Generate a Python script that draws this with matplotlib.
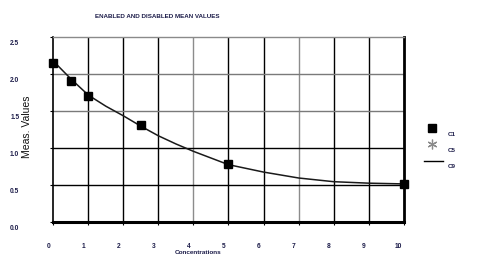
import matplotlib
matplotlib.use("Agg")
import matplotlib.pyplot as plt
import matplotlib.transforms as mtransforms
from matplotlib.lines import Line2D

plt.rcParams['font.family'] = ['Liberation Sans', 'DejaVu Sans']

# measured points (C1)
conc = [0.0, 0.5, 1.0, 2.5, 5.0, 10.0]
meas = [2.15, 1.90, 1.70, 1.30, 0.78, 0.51]

# fitted curve (C9)
fit_x = [0.0, 0.5, 1.0, 1.5, 2.0, 2.5, 3.0, 3.5, 4.0, 4.5, 5.0,
         5.5, 6.0, 6.5, 7.0, 7.5, 8.0, 8.5, 9.0, 9.5, 10.0]
fit_y = [2.17, 1.93, 1.71, 1.56, 1.43, 1.29, 1.16, 1.05, 0.95, 0.86, 0.77,
         0.72, 0.67, 0.63, 0.59, 0.565, 0.54, 0.53, 0.52, 0.515, 0.51]

xticks = [0, 1, 2, 3, 4, 5, 6, 7, 8, 9, 10]
yticks = [0.0, 0.5, 1.0, 1.5, 2.0, 2.5]
legend_labels = ['C1', 'C5', 'C9']

navy = '#1d1d4a'

fig = plt.figure(figsize=(4.81, 2.75), dpi=100)
ax = fig.add_axes([0.1108, 0.194, 0.7285, 0.6727])

for x in xticks[1:-1]:
    ax.axvline(x, color='#8c8c8c' if x in (4, 7) else 'black', lw=1.0, zorder=1)
for y in yticks[1:-1]:
    ax.axhline(y, color='#7a7a7a' if y in (1.5, 2.0) else 'black', lw=1.0, zorder=1)

ax.plot(fit_x, fit_y, '-', color='#1a1a1a', lw=1.1, zorder=3)
ax.plot(conc, meas, 's', color='black', ms=6, zorder=4, clip_on=False)

ax.set_xlim(0, 10)
ax.set_ylim(0, 2.5)
ax.set_xticks(xticks)
ax.set_yticks(yticks)
ax.set_xticklabels([str(x) for x in xticks])
ax.set_yticklabels([f'{y:.1f}' for y in yticks])
ax.tick_params(axis='both', direction='out', length=2.5, width=0.8,
               labelsize=4.8, labelcolor=navy)
ax.tick_params(axis='x', pad=13)
ax.tick_params(axis='y', pad=22)
for lab in ax.get_xticklabels():
    lab.set_fontweight('bold')
    lab.set_transform(lab.get_transform() + mtransforms.ScaledTranslation(-5 / 100, 0, fig.dpi_scale_trans))
for lab in ax.get_yticklabels():
    lab.set_fontweight('bold')
    lab.set_transform(lab.get_transform() + mtransforms.ScaledTranslation(0, -6 / 100, fig.dpi_scale_trans))

ax.spines['top'].set_color('#8a8a8a')
ax.spines['top'].set_linewidth(1.0)
ax.spines['left'].set_linewidth(1.2)
ax.spines['bottom'].set_linewidth(2.2)
ax.spines['right'].set_linewidth(2.0)

fig.text(157 / 481, 1 - 17 / 275, 'ENABLED AND DISABLED MEAN VALUES', ha='center', va='center',
         fontsize=4.5, fontweight='bold', color=navy)
fig.text(198 / 481, 1 - 253 / 275, 'Concentrations', ha='center', va='center',
         fontsize=4.6, fontweight='bold', color=navy)
fig.text(27 / 481, 1 - 127 / 275, 'Meas. Values', ha='center', va='center', rotation=90,
         fontsize=7.5, color='#111111')

# legend drawn by hand: symbol above-left, label below-right
fig.add_artist(Line2D([432 / 481], [1 - 128 / 275], marker='s', color='black', ms=5.5, ls='none'))
fig.add_artist(Line2D([432 / 481], [1 - 144 / 275], marker=(6, 2, 0), color='#8a8a8a',
                      mew=0.9, ms=7, ls='none'))
fig.add_artist(Line2D([424 / 481, 443 / 481], [1 - 161 / 275] * 2, color='black', lw=1.0))
for lab, ypix in zip(legend_labels, [134, 150, 167]):
    fig.text(452 / 481, 1 - ypix / 275, lab, ha='center', va='center',
             fontsize=4.5, fontweight='bold', color=navy)

fig.savefig('out.png', dpi=100, facecolor='white')
